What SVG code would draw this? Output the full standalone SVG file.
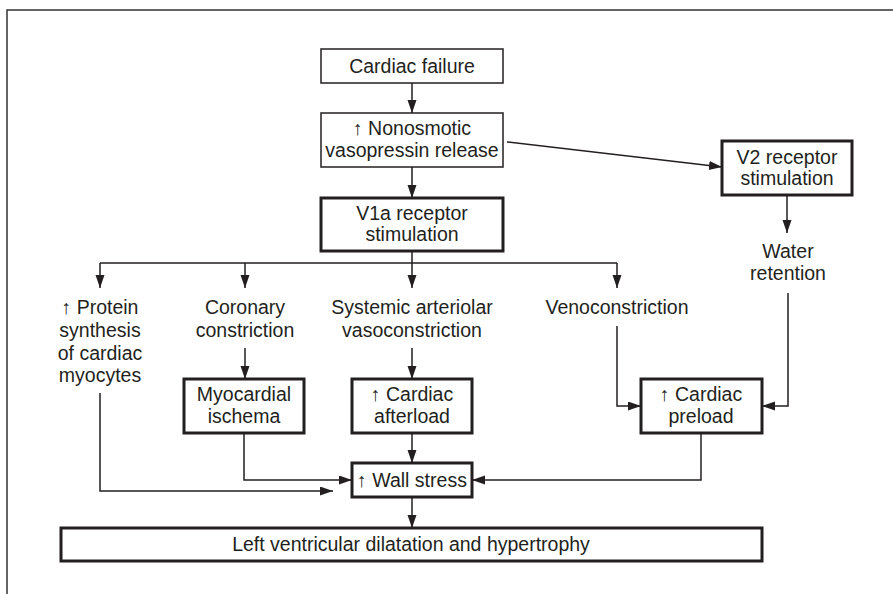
<svg xmlns="http://www.w3.org/2000/svg" width="893" height="594" viewBox="0 0 893 594">
<defs>
<marker id="ah" markerUnits="userSpaceOnUse" markerWidth="14" markerHeight="10" refX="13" refY="4.5" orient="auto">
<path d="M0,0 L13,4.5 L0,9 z" fill="#231f20"/>
</marker>
<style>
text{font-family:"Liberation Sans",Arial,sans-serif;font-size:19.5px;fill:#231f20;text-anchor:middle}
.thin{fill:#fff;stroke:#231f20;stroke-width:1.5}
.bold{fill:#fff;stroke:#231f20;stroke-width:3}
.c{fill:none;stroke:#231f20;stroke-width:1.5}
.a{marker-end:url(#ah)}
.frame{fill:none;stroke:#333;stroke-width:1.5}
</style>
</defs>
<rect width="893" height="594" fill="#fff"/>
<path class="frame" d="M7,594 V10 H893"/>

<g id="connectors">
<path class="c a" d="M412,83 V113"/>
<path class="c a" d="M412,167 V198"/>
<path class="c a" d="M507,142 L722,167"/>
<path class="c" d="M412,251 V263 M100,263 H617"/>
<path class="c a" d="M100,263 V288"/>
<path class="c a" d="M245,263 V288"/>
<path class="c a" d="M412,263 V288"/>
<path class="c a" d="M617,263 V288"/>
<path class="c a" d="M787,195 V233"/>
<path class="c a" d="M245,348 V379"/>
<path class="c a" d="M412,348 V379"/>
<path class="c a" d="M617,326 V406 H641"/>
<path class="c a" d="M788,293 V406 H762"/>
<path class="c a" d="M100,393 V491 H333"/>
<path class="c a" d="M244,433 V480 H352"/>
<path class="c a" d="M412,433 V463"/>
<path class="c a" d="M701,433 V480 H472"/>
<path class="c a" d="M412,497 V528"/>
</g>

<g id="cardiac-failure">
<rect class="thin" x="321" y="49" width="182" height="34"/>
<text x="412" y="73">Cardiac failure</text>
</g>
<g id="vasopressin-release">
<rect class="thin" x="321" y="113" width="182" height="54"/>
<text x="412" y="135">↑ Nonosmotic</text>
<text x="412" y="157">vasopressin release</text>
</g>
<g id="v1a">
<rect class="bold" x="321" y="198" width="182" height="53"/>
<text x="412" y="220">V1a receptor</text>
<text x="412" y="241">stimulation</text>
</g>
<g id="v2">
<rect class="bold" x="722" y="141" width="130" height="54"/>
<text x="787" y="164">V2 receptor</text>
<text x="787" y="185">stimulation</text>
</g>
<g id="water-retention">
<text x="788" y="258">Water</text>
<text x="788" y="280">retention</text>
</g>
<g id="protein-synthesis">
<text x="100" y="314">↑ Protein</text>
<text x="100" y="337">synthesis</text>
<text x="100" y="360">of cardiac</text>
<text x="100" y="382">myocytes</text>
</g>
<g id="coronary-constriction">
<text x="245" y="314">Coronary</text>
<text x="245" y="337">constriction</text>
</g>
<g id="systemic-vasoconstriction">
<text x="412" y="314">Systemic arteriolar</text>
<text x="412" y="337">vasoconstriction</text>
</g>
<g id="venoconstriction">
<text x="617" y="314">Venoconstriction</text>
</g>
<g id="myocardial-ischema">
<rect class="bold" x="184" y="379" width="120" height="54"/>
<text x="244" y="401">Myocardial</text>
<text x="244" y="423">ischema</text>
</g>
<g id="cardiac-afterload">
<rect class="bold" x="352" y="379" width="120" height="54"/>
<text x="412" y="401">↑ Cardiac</text>
<text x="412" y="423">afterload</text>
</g>
<g id="cardiac-preload">
<rect class="bold" x="641" y="379" width="121" height="54"/>
<text x="701" y="401">↑ Cardiac</text>
<text x="701" y="423">preload</text>
</g>
<g id="wall-stress">
<rect class="bold" x="352" y="463" width="120" height="34"/>
<text x="412" y="487">↑ Wall stress</text>
</g>
<g id="lv-dilatation">
<rect class="bold" x="61" y="528" width="701" height="33"/>
<text x="411" y="551">Left ventricular dilatation and hypertrophy</text>
</g>
</svg>
